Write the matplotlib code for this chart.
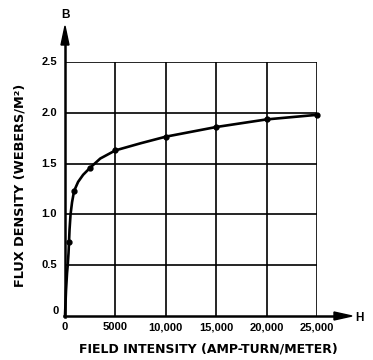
import matplotlib.pyplot as plt

# points
curve_h = [0, 100, 200, 270, 350, 450, 550, 700, 900, 1300, 1800, 2500, 3500,
           5000, 7500, 10000, 15000, 20000, 25000]
curve_b = [0, 0.25, 0.42, 0.5, 0.62, 0.85, 1.0, 1.12, 1.23, 1.32, 1.39, 1.46,
           1.55, 1.63, 1.70, 1.765, 1.86, 1.935, 1.98]

# marked measurement points
point_h = [400, 900, 2500, 5000, 10000, 15000, 20000, 25000]
point_b = [0.73, 1.23, 1.46, 1.63, 1.765, 1.86, 1.935, 1.98]

x_ticks = [0, 5000, 10000, 15000, 20000, 25000]
x_labels = ["0", "5000", "10,000", "15,000", "20,000", "25,000"]
y_ticks = [0.5, 1.0, 1.5, 2.0, 2.5]
y_labels = ["0.5", "1.0", "1.5", "2.0", "2.5"]

plt.rcParams['font.family'] = ['Liberation Sans', 'DejaVu Sans']
plt.rcParams['font.weight'] = 'bold'

fig = plt.figure(figsize=(3.73, 3.6), dpi=100)
W, H = 373, 360
x0, x1 = 65, 317
y0, y1 = 316, 62
ax = fig.add_axes([x0 / W, 1 - y0 / H, (x1 - x0) / W, (y0 - y1) / H])

ax.set_xlim(0, 25000)
ax.set_ylim(0, 2.5)

for xv in x_ticks[1:]:
    ax.axvline(xv, color='black', lw=1.2, zorder=1)
for yv in y_ticks:
    ax.axhline(yv, color='black', lw=1.2, zorder=1)

ax.plot(curve_h, curve_b, color='black', lw=1.9, zorder=3, clip_on=False)
ax.plot(point_h, point_b, 'o', color='black', ms=3.5, zorder=4, clip_on=False)

for s in ax.spines.values():
    s.set_visible(False)
ax.set_xticks([])
ax.set_yticks([])

# axes with arrows, drawn in figure pixels
def fx(px):
    return px / W


def fy(py):
    return 1 - py / H


fig.add_artist(plt.Line2D([fx(x0), fx(x0)], [fy(y0 + 1), fy(40)], color='black', lw=1.8))
fig.add_artist(plt.Line2D([fx(x0 - 1), fx(338)], [fy(y0), fy(y0)], color='black', lw=1.8))
fig.add_artist(plt.Polygon([[fx(x0), fy(26)], [fx(x0 - 4), fy(45)], [fx(x0 + 4), fy(45)]],
                           closed=True, color='black', transform=fig.transFigure))
fig.add_artist(plt.Polygon([[fx(352), fy(y0)], [fx(334), fy(y0 - 4)], [fx(334), fy(y0 + 4)]],
                           closed=True, color='black', transform=fig.transFigure))

fig.text(fx(65), fy(15), "B", ha='center', va='center', fontsize=8.5)
fig.text(fx(359), fy(318), "H", ha='center', va='center', fontsize=8.5)

# tick labels
for xv, lab in zip(x_ticks, x_labels):
    px = x0 + (x1 - x0) * xv / 25000
    fig.text(fx(px), fy(327), lab, ha='center', va='center', fontsize=8)
fig.text(fx(56), fy(311), "0", ha='center', va='center', fontsize=8)
for yv, lab in zip(y_ticks, y_labels):
    py = y0 - (y0 - y1) * yv / 2.5
    fig.text(fx(57), fy(py), lab, ha='right', va='center', fontsize=8)

fig.text(fx(208), fy(349), "FIELD INTENSITY (AMP-TURN/METER)",
         ha='center', va='center', fontsize=9, family='DejaVu Sans')
fig.text(fx(20), fy(185), "FLUX DENSITY (WEBERS/M²)", rotation=90,
         ha='center', va='center', fontsize=9.3, family='DejaVu Sans')

fig.savefig("out.png", dpi=100)
